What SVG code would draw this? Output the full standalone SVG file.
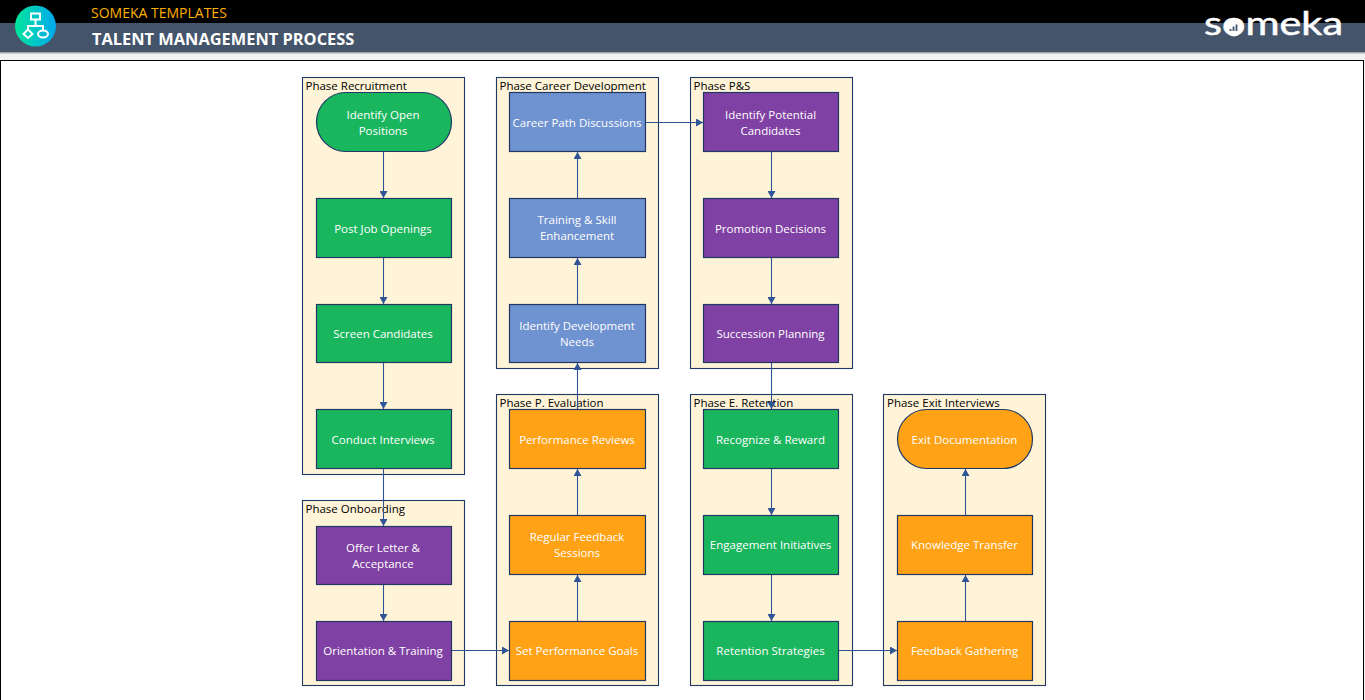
<svg xmlns="http://www.w3.org/2000/svg" width="1365" height="700" viewBox="0 0 1365 700">
<defs>
<linearGradient id="lg" x1="0" y1="0" x2="1" y2="0"><stop offset="0" stop-color="#00e69a"/><stop offset="1" stop-color="#00a8f0"/></linearGradient>
<marker id="ah" markerUnits="userSpaceOnUse" markerWidth="8" markerHeight="8" refX="7" refY="4" orient="auto"><path d="M0,0 L7,4 L0,8 Z" fill="#2f5597"/></marker>
</defs>
<style>
.ph{fill:#fff4d8;stroke:#1f3864;stroke-width:1.1}
.n{stroke:#1f3864;stroke-width:1.2}
.g{fill:#1ab65e}.p{fill:#7f41a3}.b{fill:#6f92d0}.o{fill:#ffa216}
.t{font-family:"Open Sans","Noto Sans",sans-serif;font-size:11.5px;fill:#fff;text-anchor:middle}
.l{font-family:"Open Sans","Noto Sans",sans-serif;font-size:11.5px;fill:#000}
.c{fill:none;stroke:#2f5597;stroke-width:1.1;marker-end:url(#ah)}
</style>
<rect width="1365" height="700" fill="#f2f2f2"/>
<rect width="1365" height="23" fill="#000"/>
<rect y="23" width="1365" height="29" fill="#44546a"/>
<rect y="52" width="1365" height="1.500" fill="#a6a6a6"/>
<rect x="0.500" y="60.500" width="1363" height="640" fill="#fff" stroke="#000" stroke-width="1"/>
<g id="header">
<circle cx="35.500" cy="26" r="20.500" fill="url(#lg)"/>
<g fill="none" stroke="#fff" stroke-width="2">
<rect x="31" y="13.500" width="9" height="6"/>
<path d="M35.500 19.500V26M28 31V26H43V31"/>
<path d="M28 29.500L32.500 34L28 38L23.500 34Z"/>
<ellipse cx="43" cy="34" rx="5" ry="3.500"/>
</g>
<text x="91" y="18" font-family="'Open Sans','Noto Sans',sans-serif" font-size="14" fill="#ffb000">SOMEKA TEMPLATES</text>
<text x="92" y="44.500" font-family="'Open Sans','Noto Sans',sans-serif" font-size="16.400" font-weight="700" fill="#fff">TALENT MANAGEMENT PROCESS</text>
<text x="1204" y="35" font-family="Lato,'Open Sans',sans-serif" font-size="32" font-weight="400" fill="#fff" stroke="#fff" stroke-width="0.500" textLength="139" lengthAdjust="spacingAndGlyphs">someka</text>
<circle cx="1234" cy="27.500" r="9" fill="#fff"/>
<path d="M1230.500 31V29M1233.500 31V26.500M1236.500 31V24.500" stroke="#44546a" stroke-width="1.800"/>
</g>
<g id="phase-recruitment"><rect class="ph" x="302.500" y="77.500" width="162" height="397"/><text class="l" x="305.500" y="90">Phase Recruitment</text></g>
<g id="phase-onboarding"><rect class="ph" x="302.500" y="500.500" width="162" height="185"/><text class="l" x="305.500" y="513">Phase Onboarding</text></g>
<g id="phase-career"><rect class="ph" x="496.500" y="77.500" width="162" height="291"/><text class="l" x="499.500" y="90">Phase Career Development</text></g>
<g id="phase-evaluation"><rect class="ph" x="496.500" y="394.500" width="162" height="291"/><text class="l" x="499.500" y="407">Phase P. Evaluation</text></g>
<g id="phase-ps"><rect class="ph" x="690.500" y="77.500" width="162" height="291"/><text class="l" x="693.500" y="90">Phase P&amp;S</text></g>
<g id="phase-retention"><rect class="ph" x="690.500" y="394.500" width="162" height="291"/><text class="l" x="693.500" y="407">Phase E. Retention</text></g>
<g id="phase-exit"><rect class="ph" x="883.500" y="394.500" width="162" height="291"/><text class="l" x="887" y="407">Phase Exit Interviews</text></g>

<g id="n1"><rect class="n g" x="316.500" y="92.500" width="135" height="59" rx="29.500"/><text class="t" x="383" y="119">Identify Open</text><text class="t" x="383" y="135">Positions</text></g>
<g id="n2"><rect class="n g" x="316.500" y="198.500" width="135" height="59"/><text class="t" x="383" y="233">Post Job Openings</text></g>
<g id="n3"><rect class="n g" x="316.500" y="304.500" width="135" height="58"/><text class="t" x="383" y="338">Screen Candidates</text></g>
<g id="n4"><rect class="n g" x="316.500" y="409.500" width="135" height="59"/><text class="t" x="383" y="444">Conduct Interviews</text></g>
<g id="n5"><rect class="n p" x="316.500" y="526.500" width="135" height="58"/><text class="t" x="383" y="552">Offer Letter &amp;</text><text class="t" x="383" y="568">Acceptance</text></g>
<g id="n6"><rect class="n p" x="316.500" y="621.500" width="135" height="59"/><text class="t" x="383" y="655">Orientation &amp; Training</text></g>

<g id="n7"><rect class="n b" x="509.500" y="92.500" width="136" height="59"/><text class="t" x="577" y="127">Career Path Discussions</text></g>
<g id="n8"><rect class="n b" x="509.500" y="198.500" width="136" height="59"/><text class="t" x="577" y="224">Training &amp; Skill</text><text class="t" x="577" y="240">Enhancement</text></g>
<g id="n9"><rect class="n b" x="509.500" y="304.500" width="136" height="58"/><text class="t" x="577" y="330">Identify Development</text><text class="t" x="577" y="346">Needs</text></g>
<g id="n10"><rect class="n o" x="509.500" y="409.500" width="136" height="59"/><text class="t" x="577" y="444">Performance Reviews</text></g>
<g id="n11"><rect class="n o" x="509.500" y="515.500" width="136" height="59"/><text class="t" x="577" y="541">Regular Feedback</text><text class="t" x="577" y="557">Sessions</text></g>
<g id="n12"><rect class="n o" x="509.500" y="621.500" width="136" height="59"/><text class="t" x="577" y="655">Set Performance Goals</text></g>

<g id="n13"><rect class="n p" x="703.500" y="92.500" width="135" height="59"/><text class="t" x="770.500" y="119">Identify Potential</text><text class="t" x="770.500" y="135">Candidates</text></g>
<g id="n14"><rect class="n p" x="703.500" y="198.500" width="135" height="59"/><text class="t" x="770.500" y="233">Promotion Decisions</text></g>
<g id="n15"><rect class="n p" x="703.500" y="304.500" width="135" height="58"/><text class="t" x="770.500" y="338">Succession Planning</text></g>
<g id="n16"><rect class="n g" x="703.500" y="409.500" width="135" height="59"/><text class="t" x="770.500" y="444">Recognize &amp; Reward</text></g>
<g id="n17"><rect class="n g" x="703.500" y="515.500" width="135" height="59"/><text class="t" x="770.500" y="549">Engagement Initiatives</text></g>
<g id="n18"><rect class="n g" x="703.500" y="621.500" width="135" height="59"/><text class="t" x="770.500" y="655">Retention Strategies</text></g>

<g id="n19"><rect class="n o" x="897.500" y="409.500" width="135" height="59" rx="29.500"/><text class="t" x="964.500" y="444">Exit Documentation</text></g>
<g id="n20"><rect class="n o" x="897.500" y="515.500" width="135" height="59"/><text class="t" x="964.500" y="549">Knowledge Transfer</text></g>
<g id="n21"><rect class="n o" x="897.500" y="621.500" width="135" height="59"/><text class="t" x="964.500" y="655">Feedback Gathering</text></g>

<g id="connectors">
<path class="c" d="M383.500 152V198"/>
<path class="c" d="M383.500 258V304"/>
<path class="c" d="M383.500 363V409"/>
<path class="c" d="M383.500 469V526"/>
<path class="c" d="M383.500 585V621"/>
<path class="c" d="M452 650.500H509"/>
<path class="c" d="M577.500 621V575"/>
<path class="c" d="M577.500 515V469"/>
<path class="c" d="M577.500 409V363"/>
<path class="c" d="M577.500 304V258"/>
<path class="c" d="M577.500 198V152"/>
<path class="c" d="M646 122.500H703"/>
<path class="c" d="M771.500 152V198"/>
<path class="c" d="M771.500 258V304"/>
<path class="c" d="M771.500 363V409"/>
<path class="c" d="M771.500 469V515"/>
<path class="c" d="M771.500 575V621"/>
<path class="c" d="M839 650.500H897"/>
<path class="c" d="M965.500 621V575"/>
<path class="c" d="M965.500 515V469"/>
</g>
</svg>
